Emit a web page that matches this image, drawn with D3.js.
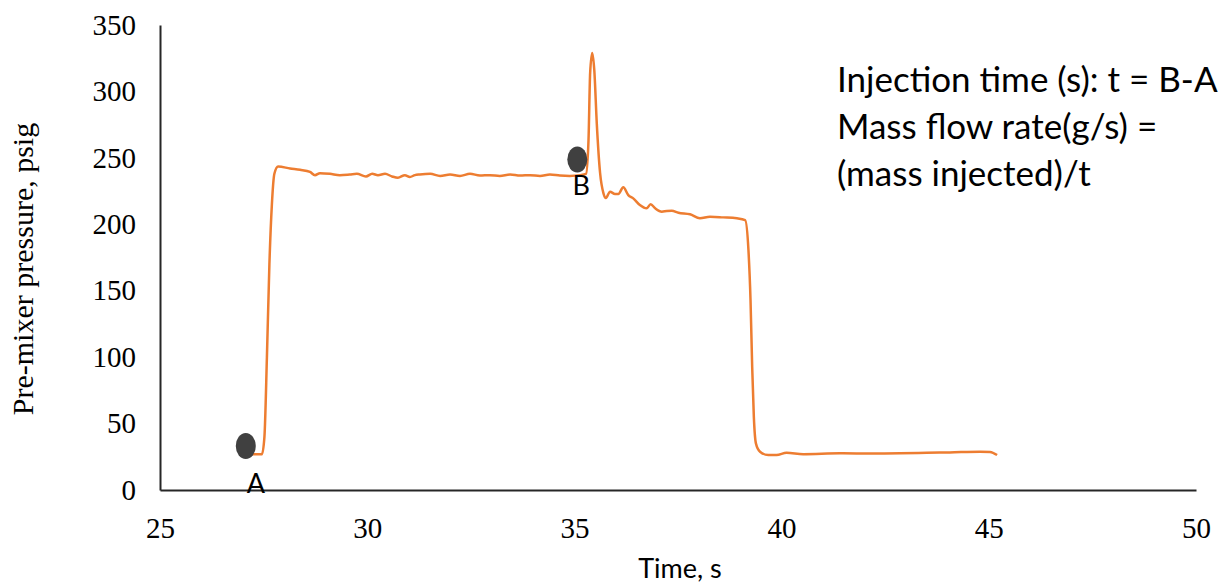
<!DOCTYPE html>
<html>
<head>
<meta charset="utf-8">
<script src="https://cdn.jsdelivr.net/npm/d3@7"></script>
<style>
  body { margin: 0; background: #fff; }
  svg { display: block; }
</style>
</head>
<body>
<svg id="chart" width="1228" height="586"></svg>
<script>
// pressure trace
var timeS = [
  27.10, 27.46, 27.52, 27.58, 27.64, 27.70, 27.76, 27.85,
  28.14, 28.38, 28.62, 28.74, 28.86, 29.10, 29.34, 29.58, 29.75, 29.97,
  30.12, 30.26, 30.43, 30.60, 30.74, 30.91, 31.03, 31.15, 31.27, 31.52,
  31.76, 32.00, 32.24, 32.48, 32.72, 32.96, 33.20, 33.45, 33.69, 33.93,
  34.17, 34.41, 34.65, 34.89, 35.14, 35.28,
  35.34, 35.38, 35.43, 35.48, 35.54, 35.62, 35.70, 35.76,
  35.86, 35.98, 36.06, 36.18, 36.30, 36.42, 36.58, 36.74, 36.84, 36.95,
  37.11, 37.23, 37.35, 37.51, 37.79, 38.03, 38.27, 38.59, 38.92, 39.12,
  39.20, 39.25, 39.29, 39.33, 39.38, 39.48, 39.68, 39.88, 40.12, 40.52,
  41.41, 42.20, 42.86, 43.50, 44.06, 44.79, 45.03, 45.20
];
var pressurePsig = [
  27.0, 27.0, 40, 100, 170, 215, 238, 243.5,
  242.0, 241.0, 239.4, 237.0, 238.5, 238.0, 237.0, 237.5, 238.0, 236.0,
  238.0, 237.0, 238.0, 236.0, 235.0, 237.0, 235.6, 237.0, 237.5, 238.0,
  236.4, 237.5, 236.4, 238.0, 236.7, 237.0, 236.4, 237.5, 236.7, 237.0,
  236.4, 237.5, 236.7, 236.4, 237.0, 238.0,
  263, 314, 329, 316, 276, 238.6, 223.5, 219.8,
  224.5, 222.8, 222.8, 227.8, 222.0, 219.5, 214.5, 212.0, 215.0, 212.0,
  209.5, 210.0, 210.2, 208.7, 207.5, 204.5, 205.7, 205.2, 204.5, 203.2,
  180.6, 143.0, 92.8, 55.2, 35.1, 28.8, 26.3, 26.3, 28.0, 27.0,
  27.6, 27.4, 27.6, 28.0, 28.3, 28.8, 28.6, 26.3
];

var markerNames = ['A', 'B'];
var markerTime = [27.07, 35.07];
var markerPressure = [33.1, 248.8];

var xTicks = [25, 30, 35, 40, 45, 50];
var yTicks = [0, 50, 100, 150, 200, 250, 300, 350];

var noteLines = ['Injection time (s): t = B-A', 'Mass flow rate(g/s) =', '(mass injected)/t'];

// label placement below each marker (px)
var labelShift = [[10, 47], [4, 36]];

var margin = {top: 25, left: 160, right: 32, bottom: 96};
var width = 1228 - margin.left - margin.right;
var height = 586 - margin.top - margin.bottom;

var svg = d3.select('#chart');
var g = svg.append('g')
  .attr('transform', 'translate(' + margin.left + ',' + margin.top + ')');

var x = d3.scaleLinear().domain([25, 50]).range([0, width]);
var y = d3.scaleLinear().domain([0, 350]).range([height, 0]);

var serif = '"Liberation Serif", "Times New Roman", serif';
var sans = 'Lato, "Open Sans", sans-serif';

var yAxis = g.append('g')
  .call(d3.axisLeft(y).tickValues(yTicks).tickSize(0).tickSizeOuter(0).tickPadding(24));
var xAxis = g.append('g')
  .attr('transform', 'translate(0,' + height + ')')
  .call(d3.axisBottom(x).tickValues(xTicks).tickSize(0).tickSizeOuter(0).tickPadding(27));

[xAxis, yAxis].forEach(function(ax) {
  ax.select('.domain').attr('stroke', '#262626').attr('stroke-width', 2);
  ax.selectAll('text')
    .attr('fill', '#000')
    .style('font-family', serif)
    .style('font-size', '29px');
});

// trace
var points = timeS.map(function(t, i) { return [t, pressurePsig[i]]; });
var line = d3.line()
  .x(function(d) { return x(d[0]); })
  .y(function(d) { return y(d[1]); })
  .curve(d3.curveMonotoneX);

g.append('path')
  .datum(points)
  .attr('d', line)
  .attr('fill', 'none')
  .attr('stroke', '#ED7D31')
  .attr('stroke-width', 2.5)
  .attr('stroke-linejoin', 'round');

// A / B markers
var markers = markerNames.map(function(n, i) {
  return {name: n, t: markerTime[i], p: markerPressure[i], shift: labelShift[i]};
});

g.selectAll('ellipse.marker')
  .data(markers)
  .enter().append('ellipse')
    .attr('class', 'marker')
    .attr('cx', function(d) { return x(d.t); })
    .attr('cy', function(d) { return y(d.p); })
    .attr('rx', 10)
    .attr('ry', 13)
    .attr('fill', '#404040');

g.selectAll('text.marker-label')
  .data(markers)
  .enter().append('text')
    .attr('class', 'marker-label')
    .attr('x', function(d) { return x(d.t) + d.shift[0]; })
    .attr('y', function(d) { return y(d.p) + d.shift[1]; })
    .attr('text-anchor', 'middle')
    .style('font-family', sans)
    .style('font-size', '27px')
    .text(function(d) { return d.name; });

// annotation
svg.selectAll('text.note')
  .data(noteLines)
  .enter().append('text')
    .attr('class', 'note')
    .attr('x', 837)
    .attr('y', function(d, i) { return 92 + i * 47; })
    .style('font-family', sans)
    .style('font-size', '35px')
    .attr('fill', '#000')
    .text(function(d) { return d; });

// axis titles
svg.append('text')
  .attr('transform', 'translate(33,269) rotate(-90)')
  .attr('text-anchor', 'middle')
  .style('font-family', serif)
  .style('font-size', '30px')
  .text('Pre-mixer pressure, psig');

svg.append('text')
  .attr('x', 680)
  .attr('y', 578)
  .attr('text-anchor', 'middle')
  .style('font-family', sans)
  .style('font-size', '27px')
  .text('Time, s');
</script>
</body>
</html>
